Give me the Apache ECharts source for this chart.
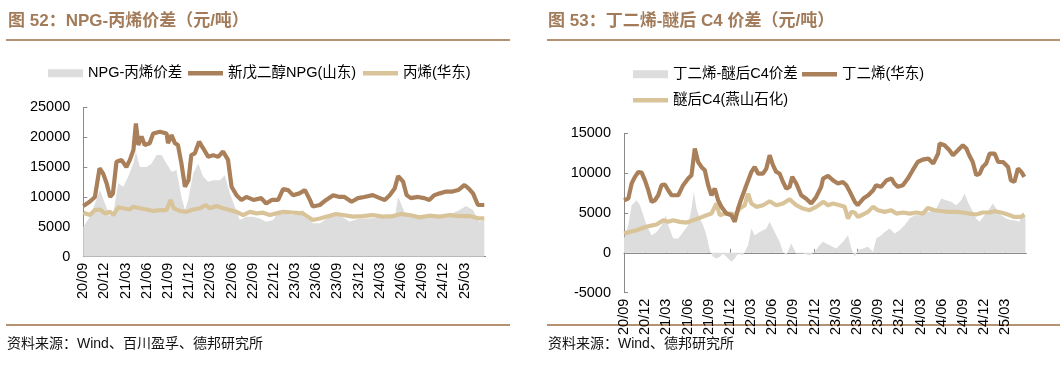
<!DOCTYPE html>
<html><head><meta charset="utf-8">
<script src="https://cdn.jsdelivr.net/npm/echarts@6/dist/echarts.min.js"></script>
<style>html,body{margin:0;padding:0;background:#fff}#c{width:1063px;height:366px}</style>
</head><body><div id="c"></div>
<script>
// x values: months since Sep 2020 (0 = 20/09, 3 = 20/12, ...)
const tickLabels = ['20/09','20/12','21/03','21/06','21/09','21/12','22/03','22/06','22/09','22/12','23/03','23/06','23/09','23/12','24/03','24/06','24/09','24/12','25/03'];

// ---- Chart 52: NPG - propylene ----
const npgMonth = [0,0.9,1.65,2.3,2.8,3.3,3.8,4.2,4.7,5.4,6.1,6.6,7.1,7.45,7.8,8.25,8.7,9.4,9.9,10.85,11.8,12.0,12.5,12.97,13.4,13.9,14.4,14.9,15.3,15.8,16.4,17.0,17.7,18.4,19.1,19.8,20.5,21.0,21.7,22.4,23.1,24.1,25.2,25.9,26.7,27.6,28.3,29.0,29.7,30.6,31.4,32.1,32.5,33.5,34.4,35.4,36.3,37.0,38.0,38.9,39.8,41.0,42.0,42.7,43.4,44.1,44.6,45.3,45.8,46.4,47.4,48.3,49.0,49.7,50.5,51.4,52.3,53.1,54.0,54.6,55.2,55.9,56.8];
const npgPrice = [8480,9200,10000,14800,13950,12300,10000,10600,15900,16200,15000,16200,17850,22300,18700,20100,18700,19000,20600,20900,20600,19000,20350,19000,18700,15600,11700,12800,17000,17300,19250,18100,16700,17000,16700,17600,16200,11700,10300,9500,10000,9500,9800,8900,9500,9500,11300,11150,10300,10600,11150,9500,8400,8650,9500,10300,10000,10000,9200,9800,10000,10300,9800,9500,10300,11400,13500,12550,10300,9800,10000,9800,9500,10300,10600,10900,10900,11150,12000,11400,10600,8650,8650];

const propyleneMonth = [0,0.94,1.65,2.36,3.07,3.77,4.25,4.95,5.66,6.6,7.08,8.02,8.96,9.9,10.85,11.79,12.36,12.83,13.68,14.62,15.57,16.51,17.36,17.92,18.87,19.81,20.75,21.7,22.64,23.58,24.53,25.47,26.42,27.36,28.3,29.7,31.1,32.5,33.5,34.4,35.8,36.8,38.2,39.6,41.0,42.4,43.9,45.0,46.2,47.6,49.0,50.5,51.9,53.3,54.7,56.1,56.8];
const propylenePrice = [7370,6970,7800,7900,7250,7500,6970,8250,8100,7900,8370,8100,7900,7650,7800,7800,9500,8100,7650,7500,7900,8100,8650,8100,8500,8100,7800,7500,6970,7500,7250,7370,6970,7250,7500,7400,7250,6150,6400,6700,7150,6970,6700,6800,6970,6700,6800,7150,6970,6580,6860,6700,6970,6800,6800,6400,6400];

const npgSpreadMonth = [0,0.94,1.65,2.36,3.07,3.77,4.25,4.95,5.66,6.37,7.08,7.45,8.02,8.96,9.67,10.38,11.08,11.79,12.5,13.2,13.9,14.4,14.86,15.57,16.27,16.98,17.69,18.4,19.34,20.05,20.75,21.46,22.17,23.1,24.06,25.0,25.94,26.9,27.83,28.3,29.7,31.1,32.5,33.5,34.9,36.3,37.7,39.1,40.6,42.0,43.4,44.2,44.6,45.5,46.7,48.1,49.5,50.9,52.3,53.3,54.2,55.2,56.1,56.8];
const npgSpread = [5000,6700,8900,11150,8900,6700,7250,12300,11700,13400,15600,17600,15000,15000,15600,17000,17000,15600,14200,14500,10000,7800,9500,13950,15600,13400,12550,12800,12800,13650,10600,8400,6150,6700,6700,6400,5850,6150,7800,7250,6970,7800,5580,5580,6700,6970,5850,6400,6400,6700,6970,7200,10000,7500,6700,6970,6700,6970,7250,7800,8500,7800,5850,6150];

// ---- Chart 53: butadiene - post-ether C4 ----
const butadieneMonth = [0,0.61,1.08,1.55,2.03,2.5,2.97,3.44,3.91,4.38,4.85,5.32,5.79,6.26,6.74,7.68,8.38,9.09,9.56,10.03,10.5,10.97,11.45,11.92,12.39,12.86,13.33,13.8,14.51,15.21,15.69,16.16,16.63,17.33,18.04,18.51,18.98,19.69,20.16,20.63,21.1,21.57,22.04,22.52,22.99,23.46,23.83,24.4,25.1,25.81,26.52,27.23,27.93,28.2,28.9,29.6,30.3,31.0,31.5,32.0,32.7,33.1,33.9,34.6,35.3,35.7,36.4,37.2,37.9,38.3,38.8,39.5,40.2,40.9,41.6,42.3,43.1,43.8,44.5,44.7,45.4,46.1,46.6,47.3,48.0,48.5,48.9,49.4,49.9,50.4,50.8,51.3,51.8,52.5,53.0,53.7,54.4,54.8,55.3,55.8,56.3,56.7];
const butadienePrice = [6600,6800,8700,9530,10150,10070,9100,7860,6400,6600,7230,8490,8570,7860,7230,7230,8490,9320,9740,13080,11400,10780,10370,8490,7230,8070,6600,5770,4930,4720,3890,5560,6800,8490,10150,10780,9950,9950,10570,12250,11000,10150,9950,8900,8070,8280,9530,8700,7230,6800,6190,7020,8280,9320,9660,9110,8700,8900,8490,7650,6400,5980,6810,7230,7860,8490,8280,9110,9320,8700,8280,8490,9320,10370,11400,11700,11830,11200,12460,13710,13500,12870,12250,12870,13500,13080,12250,11400,9740,9950,10780,11200,12460,12460,11400,11400,10780,9110,8900,10570,10150,9530];

const c4Month = [0,0.85,1.79,2.73,3.67,4.62,5.56,6.26,6.97,7.91,8.86,9.8,10.74,11.68,12.39,13.1,13.57,14.27,15.21,15.69,16.39,17.1,17.57,18.04,18.75,19.69,20.63,21.57,22.52,23.46,24.4,25.34,26.28,27.23,28.26,28.9,29.6,30.55,31.26,31.73,32.2,32.67,33.14,33.85,34.56,35.27,35.97,36.92,37.86,38.57,39.51,40.45,41.4,42.34,43.05,43.99,45.17,46.11,47.06,48.0,48.95,49.89,50.83,51.78,52.48,53.43,54.37,55.31,56.26,56.73];
const c4Price = [2420,2630,2840,3140,3390,3550,4100,3890,4100,3890,3800,4100,4390,4720,4930,6190,4720,4930,4930,4720,5560,5980,7440,6190,5770,5980,6480,5980,6190,6730,5980,5560,5350,5770,6400,5980,6190,5980,5770,4300,5140,5060,4510,4810,5140,5770,5350,5140,5350,4930,5060,4930,5060,4930,5640,5350,5220,5140,5140,5060,4930,4810,5060,5060,5220,5060,4810,4510,4510,4810];

const c4SpreadMonth = [0,0.61,1.08,1.79,2.26,2.73,3.2,3.91,4.62,5.32,5.93,6.26,6.97,7.68,8.38,9.09,9.56,9.89,10.27,10.74,11.21,11.68,12.15,12.62,13.1,13.57,14.04,14.51,15.21,15.69,16.16,16.86,17.57,18.04,18.51,19.22,20.16,20.63,21.1,21.57,22.04,22.52,22.99,23.69,24.4,25.34,26.28,26.99,27.7,28.19,29.13,30.08,31.02,31.73,32.2,32.67,33.14,33.85,34.56,35.27,35.74,36.44,36.92,37.62,38.33,39.04,39.75,40.45,41.16,41.87,42.58,43.28,44.23,44.94,45.64,46.35,47.06,47.77,48.24,48.71,49.18,49.89,50.36,51.07,51.78,52.25,52.72,53.43,54.13,54.84,55.31,56.02,56.49,56.87];
const c4Spread = [1800,3470,5980,6600,5980,4720,3470,2220,2630,3470,4720,3470,1800,1800,2630,3470,5560,7650,5560,4300,3470,2220,330,-500,-710,-500,-80,-500,-1130,-710,-80,-290,960,3050,2220,2630,3050,3890,3050,2220,1380,130,-290,1170,-80,-80,-290,130,960,1380,960,540,1380,2220,540,-500,330,540,750,130,1800,2220,2630,3050,2420,2840,3470,4300,4720,4720,5140,5140,5560,6810,6600,6400,5980,6600,7440,6400,5560,4300,3890,4720,5560,6190,5560,4720,4300,4100,4100,3890,5140,4300];

const zip = (xs, ys) => xs.map((x, i) => [x, ys[i]]);

const FONT = "'Liberation Sans','Noto Sans CJK SC',sans-serif";
const BROWN = '#A9805A', TAN = '#D9C49A', GRAY = '#DDDDDD', TITLE = '#A27C5A', RULE = '#B49272', AXIS = '#8A8A8A';
const tickVals = tickLabels.map((_, i) => i * 3);

function xAxisCfg(g) {
  return {
    type: 'value', gridIndex: g, min: 0, max: 57,
    axisLine: { show: true, onZero: true, lineStyle: { color: AXIS, width: 1 } },
    axisTick: { show: true, inside: true, length: 4, lineStyle: { color: AXIS }, customValues: tickVals },
    axisLabel: { rotate: 90, margin: 6, fontSize: 14.5, color: '#000', fontFamily: FONT,
      customValues: tickVals, formatter: v => tickLabels[Math.round(v / 3)] || '' },
    splitLine: { show: false }
  };
}
function yAxisCfg(g, min, max) {
  return {
    type: 'value', gridIndex: g, min: min, max: max, interval: 5000,
    axisLine: { show: true, lineStyle: { color: AXIS, width: 1 } },
    axisTick: { show: true, inside: true, length: 4, lineStyle: { color: AXIS } },
    axisLabel: { margin: 13, fontSize: 14.5, color: '#000', fontFamily: FONT, formatter: v => String(v) },
    splitLine: { show: false }
  };
}
function areaSeries(name, g, data) {
  return { name, type: 'line', xAxisIndex: g, yAxisIndex: g, data, symbol: 'none', showSymbol: false,
    lineStyle: { width: 0 }, itemStyle: { color: GRAY }, areaStyle: { color: GRAY, opacity: 1 }, z: 1, silent: true };
}
function lineSeries(name, g, data, color) {
  return { name, type: 'line', xAxisIndex: g, yAxisIndex: g, data, symbol: 'none', showSymbol: false,
    lineStyle: { width: 4.2, color: color }, itemStyle: { color: color }, z: 3, silent: true };
}
// one legend component per item so each icon can take its own shape
function legendItem(name, left, top, color, h) {
  return { left, top, padding: 0, itemWidth: 35, itemHeight: h, selectedMode: false,
    textStyle: { fontSize: 14.5, color: '#000', fontFamily: FONT },
    data: [{ name, icon: 'rect', itemStyle: { color: color, borderWidth: 0 } }] };
}

const chart = echarts.init(document.getElementById('c'), null, { renderer: 'canvas' });
chart.setOption({
  animation: false,
  backgroundColor: '#fff',
  grid: [
    { left: 83.3, top: 107.3, width: 402.4, height: 149.4, containLabel: false, outerBoundsMode: 'none' },
    { left: 624, top: 133.3, width: 402.4, height: 159.4, containLabel: false, outerBoundsMode: 'none' }
  ],
  xAxis: [xAxisCfg(0), xAxisCfg(1)],
  yAxis: [yAxisCfg(0, 0, 25000), yAxisCfg(1, -5000, 15000)],
  legend: [
    legendItem('NPG-丙烯价差', 48, 66, GRAY, 8),
    legendItem('新戊二醇NPG(山东)', 188, 66, BROWN, 4.5),
    legendItem('丙烯(华东)', 363, 66, TAN, 4.5),
    legendItem('丁二烯-醚后C4价差', 633, 67, GRAY, 8),
    legendItem('丁二烯(华东)', 802, 67, BROWN, 4.5),
    legendItem('醚后C4(燕山石化)', 633, 93, TAN, 4.5)
  ],
  series: [
    areaSeries('NPG-丙烯价差', 0, zip(npgSpreadMonth, npgSpread)),
    lineSeries('丙烯(华东)', 0, zip(propyleneMonth, propylenePrice), TAN),
    lineSeries('新戊二醇NPG(山东)', 0, zip(npgMonth, npgPrice), BROWN),
    areaSeries('丁二烯-醚后C4价差', 1, zip(c4SpreadMonth, c4Spread)),
    lineSeries('醚后C4(燕山石化)', 1, zip(c4Month, c4Price), TAN),
    lineSeries('丁二烯(华东)', 1, zip(butadieneMonth, butadienePrice), BROWN)
  ],
  graphic: [
    { type: 'text', left: 8, top: 13, style: { text: '图 52：NPG-丙烯价差（元/吨）', fontSize: 17, fontWeight: 'bold', fontFamily: FONT, fill: TITLE } },
    { type: 'text', left: 548, top: 13, style: { text: '图 53：丁二烯-醚后 C4 价差（元/吨）', fontSize: 17, fontWeight: 'bold', fontFamily: FONT, fill: TITLE } },
    { type: 'line', shape: { x1: 6, y1: 40, x2: 510, y2: 40 }, style: { stroke: RULE, lineWidth: 2 } },
    { type: 'line', shape: { x1: 547, y1: 40, x2: 1060, y2: 40 }, style: { stroke: RULE, lineWidth: 2 } },
    { type: 'line', shape: { x1: 6, y1: 325, x2: 510, y2: 325 }, style: { stroke: RULE, lineWidth: 2 } },
    { type: 'line', shape: { x1: 547, y1: 325, x2: 1060, y2: 325 }, style: { stroke: RULE, lineWidth: 2 } },
    { type: 'text', left: 7, top: 337, style: { text: '资料来源：Wind、百川盈孚、德邦研究所', fontSize: 14, fontFamily: FONT, fill: '#111' } },
    { type: 'text', left: 548, top: 337, style: { text: '资料来源：Wind、德邦研究所', fontSize: 14, fontFamily: FONT, fill: '#111' } }
  ]
});
</script></body></html>
